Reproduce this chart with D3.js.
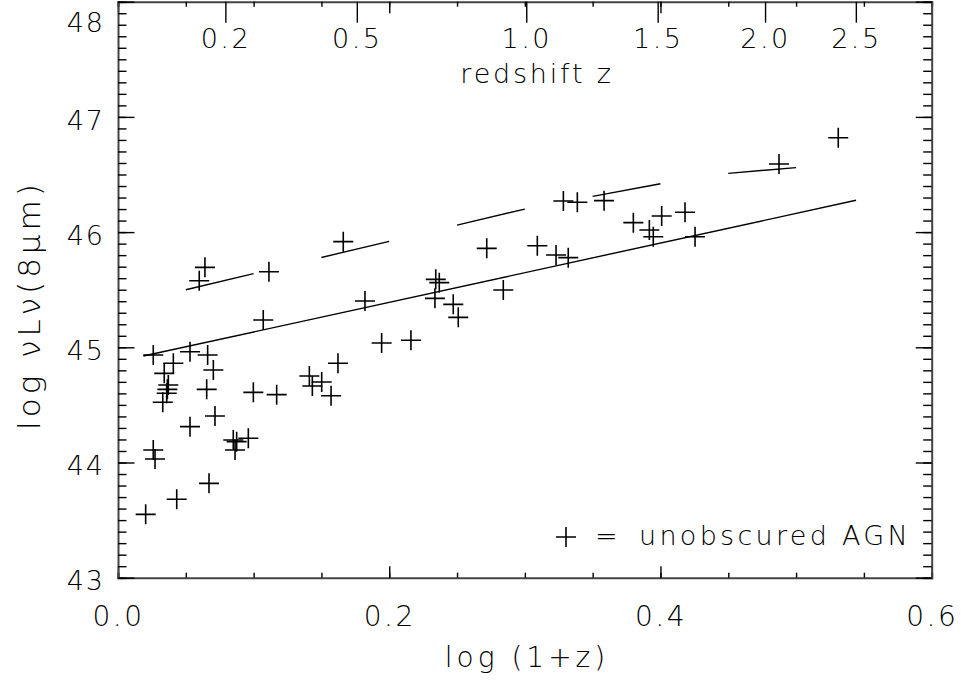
<!DOCTYPE html>
<html>
<head>
<meta charset="utf-8">
<script src="https://cdn.jsdelivr.net/npm/d3@7"></script>
<style>
  body { margin: 0; background: #fff; }
  svg text { font-family: "DejaVu Sans", sans-serif; font-weight: 200; fill: #000; }
</style>
</head>
<body>
<svg width="961" height="683"></svg>
<script>
// unobscured AGN: log(1+z), log nuLnu(8um)
let logz = [0.0204, 0.0433, 0.0671, 0.0260, 0.0273, 0.0850, 0.0875, 0.0961, 0.0863, 0.0531,
            0.0715, 0.0330, 0.0359, 0.0364, 0.0371, 0.0341, 0.0654, 0.0998, 0.1170, 0.0408,
            0.0703, 0.0260, 0.0531, 0.0661, 0.1071, 0.0599, 0.0641, 0.1113, 0.1411, 0.1433,
            0.1502, 0.1571, 0.1622, 0.1661, 0.1821, 0.1944, 0.2160, 0.2343, 0.2369, 0.2337,
            0.2472, 0.2509, 0.2719, 0.2841, 0.3092, 0.3230, 0.3320, 0.3284, 0.3387, 0.3584,
            0.3800, 0.4009, 0.4181, 0.3918, 0.3947, 0.4255, 0.4874, 0.5311];
let lum = [43.550, 43.681, 43.819, 44.109, 44.030, 44.195, 44.181, 44.210, 44.109, 44.311,
           44.404, 44.523, 44.601, 44.635, 44.673, 44.774, 44.635, 44.609, 44.589, 44.861,
           44.803, 44.933, 44.962, 44.933, 45.237, 45.578, 45.694, 45.656, 44.751, 44.664,
           44.699, 44.580, 44.861, 45.917, 45.402, 45.037, 45.061, 45.590, 45.561, 45.425,
           45.373, 45.260, 45.859, 45.497, 45.882, 45.801, 45.778, 46.270, 46.259, 46.273,
           46.082, 46.140, 46.172, 46.018, 45.960, 45.960, 46.591, 46.819];

// straight fit line
let fitX = [0.0187, 0.5442];
let fitY = [44.924, 46.276];

// upper dashed curve
let upperX = [0.05, 0.10, 0.15, 0.20, 0.25, 0.30, 0.35, 0.40, 0.45, 0.50];
let upperY = [45.50, 45.64, 45.78, 45.92, 46.06, 46.20, 46.31, 46.42, 46.51, 46.56];

// axis ticks
let xMajor = [0.0, 0.2, 0.4, 0.6];
let yMajor = [43, 44, 45, 46, 47, 48];
let zTicks = [0.2, 0.5, 1.0, 1.5, 2.0, 2.5];

let svg = d3.select("svg");
let mLeft = 118, mRight = 931.7, mTop = 1.7, mBottom = 577.7;

let x = d3.scaleLinear().domain([0, 0.6]).range([mLeft, mRight]);
let y = d3.scaleLinear().domain([43, 48]).range([mBottom, mTop]);

let xMinor = d3.range(0, 0.6001, 0.05);
let yMinor = d3.range(43, 48.001, 0.1);

function styleAxis(g) {
  g.select(".domain").attr("stroke", "#444").attr("stroke-width", 2);
  g.selectAll(".tick line").attr("stroke", "#000").attr("stroke-width", 1.4);
}

// bottom
svg.append("g").attr("transform", "translate(0," + mBottom + ")")
  .call(d3.axisBottom(x).tickValues(xMinor).tickSize(-5).tickFormat(""))
  .call(styleAxis);
let bx = svg.append("g").attr("transform", "translate(0," + mBottom + ")")
  .call(d3.axisBottom(x).tickValues(xMajor).tickSize(-11.5).tickPadding(28).tickFormat(d3.format(".1f")))
  .call(styleAxis);
bx.selectAll("text").attr("font-size", 28).style("letter-spacing", "2.5px");
bx.select(".domain").remove();

// top (mirror of bottom, plus redshift ticks)
svg.append("g").attr("transform", "translate(0," + mTop + ")")
  .call(d3.axisTop(x).tickValues(xMinor).tickSize(-5).tickFormat(""))
  .call(styleAxis);
svg.append("g").attr("transform", "translate(0," + mTop + ")")
  .call(d3.axisTop(x).tickValues(xMajor).tickSize(-11.5).tickFormat(""))
  .call(styleAxis)
  .select(".domain").remove();
let tz = svg.append("g").attr("transform", "translate(0," + mTop + ")")
  .call(d3.axisTop(x).tickValues(zTicks.map(z => Math.log10(1 + z))).tickSize(-21)
    .tickFormat((d, i) => d3.format(".1f")(zTicks[i])))
  .call(styleAxis);
tz.select(".domain").remove();
tz.selectAll("text").attr("y", 46).attr("dy", 0).attr("font-size", 27).style("letter-spacing", "2.5px");

// left
svg.append("g").attr("transform", "translate(" + mLeft + ",0)")
  .call(d3.axisLeft(y).tickValues(yMinor).tickSize(-8.5).tickFormat(""))
  .call(styleAxis);
let ly = svg.append("g").attr("transform", "translate(" + mLeft + ",0)")
  .call(d3.axisLeft(y).tickValues(yMajor).tickSize(-16.5).tickPadding(13).tickFormat(d3.format("d")))
  .call(styleAxis);
ly.select(".domain").remove();
ly.selectAll("text").attr("font-size", 27).style("letter-spacing", "2px")
  .attr("dy", d => d == 48 ? "1.1em" : "0.45em");

// right
svg.append("g").attr("transform", "translate(" + mRight + ",0)")
  .call(d3.axisRight(y).tickValues(yMinor).tickSize(-8.5).tickFormat(""))
  .call(styleAxis);
svg.append("g").attr("transform", "translate(" + mRight + ",0)")
  .call(d3.axisRight(y).tickValues(yMajor).tickSize(-16).tickFormat(""))
  .call(styleAxis)
  .select(".domain").remove();

// titles
svg.append("text").attr("x", 537).attr("y", 83).attr("text-anchor", "middle")
  .attr("font-size", 27).style("letter-spacing", "2.8px").text("redshift z");
svg.append("text").attr("x", 527).attr("y", 667).attr("text-anchor", "middle")
  .attr("font-size", 28).style("letter-spacing", "4px").text("log (1+z)");
svg.append("text").attr("transform", "translate(40,305) rotate(-90)").attr("text-anchor", "middle")
  .attr("font-size", 31).style("letter-spacing", "4px").text("log \u03bdL\u03bd(8\u03bcm)");

// fit line
let line = d3.line().x(d => x(d[0])).y(d => y(d[1]));
svg.append("path").datum(d3.zip(fitX, fitY)).attr("d", line)
  .attr("fill", "none").attr("stroke", "#000").attr("stroke-width", 1.4);

// dashed curve: draw alternate segments
let upper = d3.zip(upperX, upperY);
let segs = [];
for (let i = 0; i + 1 < upper.length; i += 2) segs.push([upper[i], upper[i + 1]]);
svg.append("g").selectAll("path").data(segs).enter().append("path")
  .attr("d", line).attr("fill", "none").attr("stroke", "#000").attr("stroke-width", 1.4);

// plus markers
let plus = "M-10,0H10M0,-10V10";
svg.append("g").selectAll("path").data(d3.zip(logz, lum)).enter().append("path")
  .attr("d", plus)
  .attr("transform", d => "translate(" + x(d[0]) + "," + y(d[1]) + ")")
  .attr("stroke", "#000").attr("stroke-width", 1.6).attr("fill", "none");

// legend
svg.append("path").attr("d", plus).attr("transform", "translate(566,537)")
  .attr("stroke", "#000").attr("stroke-width", 1.6);
svg.append("text").attr("x", 595).attr("y", 545).attr("font-size", 27).text("=");
svg.append("text").attr("x", 639).attr("y", 545).attr("font-size", 27)
  .style("letter-spacing", "3.3px").text("unobscured AGN");
</script>
</body>
</html>
